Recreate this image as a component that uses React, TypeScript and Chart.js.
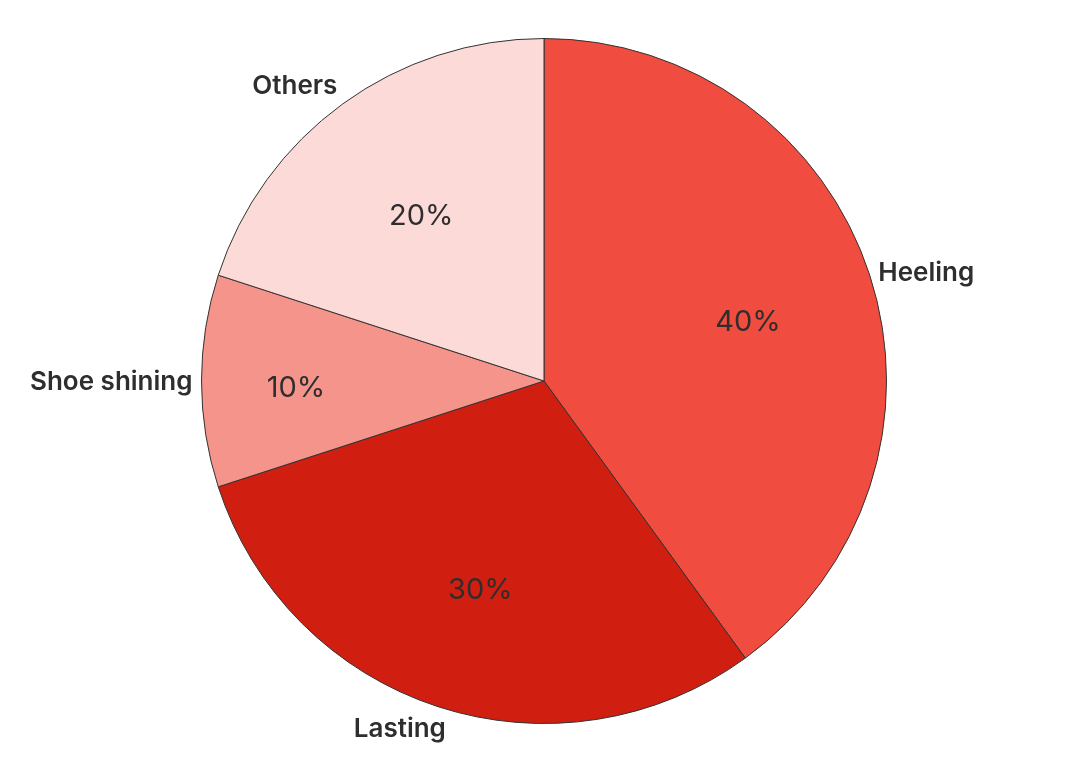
import React, { useEffect, useRef } from "react";
import { Chart, registerables } from "chart.js";

Chart.register(...registerables);

const categories = ["Heeling", "Lasting", "Shoe shining", "Others"];
const shares = [40, 30, 10, 20];
const percentLabels = ["40%", "30%", "10%", "20%"];
const sliceColors = ["#F04C3F", "#D01F10", "#F5948A", "#FCDAD7"];

const TEXT_COLOR = "#2e2e2e";
const FONT = "Inter, 'Noto Sans', sans-serif";

const labelPlugin = {
  id: "sliceLabels",
  afterDatasetsDraw(chart: any) {
    const meta = chart.getDatasetMeta(0);
    const ctx = chart.ctx;
    const total = shares.reduce((a, b) => a + b, 0);
    ctx.save();
    ctx.fillStyle = TEXT_COLOR;
    meta.data.forEach((arc: any, i: number) => {
      const { x, y, startAngle, endAngle, outerRadius } = arc.getProps(
        ["x", "y", "startAngle", "endAngle", "outerRadius"],
        true
      );
      const mid = (startAngle + endAngle) / 2;
      const c = Math.cos(mid);
      const s = Math.sin(mid);
      // inside percentage
      const frac = shares[i] / total;
      const rIn = outerRadius * (frac < 0.15 ? 0.73 : 0.62);
      ctx.font = `400 29px ${FONT}`;
      ctx.textAlign = "center";
      ctx.textBaseline = "middle";
      ctx.fillText(percentLabels[i], x + c * rIn + 2, y + s * rIn + 7);
      // outside category label
      const rOut = outerRadius + 9;
      ctx.font = `600 26px ${FONT}`;
      const w = ctx.measureText(categories[i]).width;
      const t = Math.min(1, Math.abs(c) * 2.5);
      const leftFrac = 0.5 - 0.5 * Math.sign(c) * t;
      const ax = x + c * rOut;
      const ay = y + s * rOut;
      ctx.textAlign = "left";
      ctx.textBaseline = s > 0.5 ? "top" : s < -0.5 ? "bottom" : "middle";
      ctx.fillText(categories[i], ax - w * leftFrac, ay + (s < -0.5 ? 3 : 1));
    });
    ctx.restore();
  },
};

export default function App() {
  const ref = useRef<HTMLCanvasElement | null>(null);
  useEffect(() => {
    if (!ref.current) return;
    const chart = new Chart(ref.current, {
      type: "pie",
      data: {
        labels: categories,
        datasets: [
          {
            data: shares,
            backgroundColor: sliceColors,
            borderColor: "#333333",
            borderWidth: 1,
          },
        ],
      },
      options: {
        animation: false,
        responsive: true,
        maintainAspectRatio: false,
        layout: { padding: { top: 30, bottom: 28, left: 10, right: 0 } },
        plugins: {
          legend: { display: false },
          tooltip: { enabled: false },
        },
      },
      plugins: [labelPlugin],
    });
    return () => chart.destroy();
  }, []);
  return (
    <div style={{ width: 1062, height: 744, position: "relative" }}>
      <canvas ref={ref} />
    </div>
  );
}
